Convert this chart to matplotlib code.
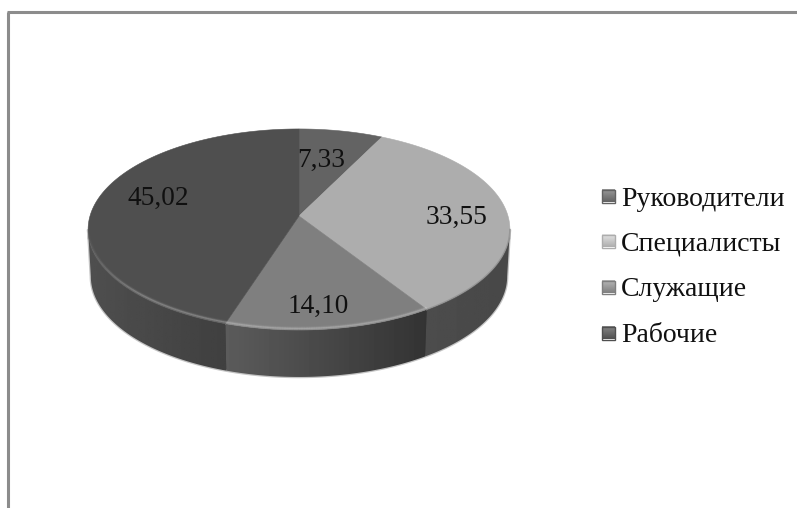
#!/usr/bin/env python3
import numpy as np
import matplotlib
matplotlib.use("Agg")
import matplotlib.pyplot as plt
from matplotlib.collections import LineCollection
from matplotlib.patches import Polygon, Rectangle

categories = ["Руководители", "Специалисты", "Служащие", "Рабочие"]
values = [7.33, 33.55, 14.10, 45.02]

top_colors = ["#636363", "#adadad", "#7f7f7f", "#4f4f4f"]
# grey level of the wall at the left and right end of each slice
wall_grey = [(0.30, 0.30), (0.30, 0.28), (0.36, 0.20), (0.31, 0.25)]

plt.rcParams["font.family"] = ["Liberation Serif", "DejaVu Serif"]

W, H = 797, 508
CX, CY = 299, 216     # pie apex on the page
RX, RY = 209, 98.7    # radii before the tilt
TILT = 0.134          # perspective strength
DEPTH = 47            # wall height
TAPER = 0.987         # the wall narrows slightly going down


def project(t):
    # t is the clockwise angle from 12 o'clock, radians
    x, y = np.sin(t), np.cos(t)
    w = 1 + TILT * y
    return CX + RX * x / w, CY - RY * y / w


def gradient(ax, x0, x1, y0, y1, g0, g1, clip, vertical=False):
    grad = np.linspace(g0, g1, 64)
    grad = grad.reshape(-1, 1) if vertical else grad.reshape(1, -1)
    im = ax.imshow(grad, extent=(x0, x1, y1, y0), aspect="auto", cmap="gray",
                   vmin=0, vmax=1, interpolation="bilinear", zorder=2)
    if clip is not None:
        clip.set_transform(ax.transData)
        im.set_clip_path(clip)


def wall_outline(ts):
    sx, sy = project(ts)
    bx = CX + (sx - CX) * TAPER
    return np.column_stack([np.r_[sx, bx[::-1]], np.r_[sy, sy[::-1] + DEPTH]])


fig = plt.figure(figsize=(W / 100, H / 100), dpi=100, facecolor="white")
ax = fig.add_axes([0, 0, 1, 1])
ax.axis("off")

edges = np.cumsum([0] + values) / sum(values) * 2 * np.pi

# the wall only shows on the front half of the outline
tt = np.linspace(0, 2 * np.pi, 1441)
px, py = project(tt)
t_right = tt[np.argmax(px)]
t_left = tt[np.argmin(px)]

# soft halo round the wall, plus a dark backing so no seams show between segments
front = np.linspace(t_right, t_left, 300)
backing = wall_outline(front)
ax.add_patch(Polygon(backing, closed=True, facecolor="#3c3c3c",
                     edgecolor="#c4c4c4", lw=1.8, zorder=1))

# wall segments
for i in range(len(values)):
    a = max(edges[i], t_right)
    b = min(edges[i + 1], t_left)
    if b <= a:
        continue
    ts = np.linspace(a, b, 120)
    sx, sy = project(ts)
    clip = Polygon(wall_outline(ts), closed=True, facecolor="none", edgecolor="none")
    ax.add_patch(clip)
    # sx runs right to left because the angle runs clockwise
    g0, g1 = wall_grey[i]
    gradient(ax, sx.min() - 3, sx.max() + 3, sy.min() - 1, sy.max() + DEPTH + 1, g0, g1, clip)

# top face
for i in range(len(values)):
    ts = np.linspace(edges[i], edges[i + 1], 200)
    sx, sy = project(ts)
    pts = np.column_stack([np.r_[CX, sx], np.r_[CY, sy]])
    ax.add_patch(Polygon(pts, closed=True, facecolor=top_colors[i],
                         edgecolor=top_colors[i], lw=0.4, zorder=3))

# bevel along the front rim, fading out towards the left side
rim = np.linspace(edges[2], t_left, 200)
rx, ry = project(rim)
points = np.column_stack([rx, ry - 1.5])
segs = np.stack([points[:-1], points[1:]], axis=1)
fade = np.clip((rim[-1] - rim[:-1]) / 0.7, 0, 1)
for lw, alpha in [(3.0, 0.05), (1.8, 0.10), (0.9, 0.16)]:
    colors = np.ones((len(segs), 4))
    colors[:, 3] = alpha * fade
    ax.add_collection(LineCollection(segs, colors=colors, linewidths=lw,
                                     capstyle="butt", zorder=4))
rim = np.linspace(t_right, edges[2], 200)
rx, ry = project(rim)
ax.plot(rx, ry, color="#7a7a7a", lw=1.2, alpha=0.45, zorder=4)

# data labels
label_pos = [(321, 157), (457, 214), (318, 303), (158, 195)]
for v, (lx, ly) in zip(values, label_pos):
    ax.text(lx, ly, f"{v:.2f}".replace(".", ","), fontsize=19.7, color="#101010",
            ha="center", va="center_baseline", zorder=6)

# legend
legend_y = [196, 241, 287, 333]
for name, col, ly in zip(categories, top_colors, legend_y):
    base = matplotlib.colors.to_rgb(col)[0]
    gradient(ax, 602, 615, ly - 6.5, ly + 6.5, min(base + 0.22, 0.9), base, None, vertical=True)
    ax.add_patch(Rectangle((602, ly - 6.5), 13, 13, facecolor="none",
                           edgecolor=col, lw=1.0, zorder=3))
    ax.text(621, ly, name, fontsize=20, color="#101010", ha="left",
            va="center_baseline", zorder=6)

# frame, only top and left are in view
ax.plot([8.5, 8.5], [12, H], color="#8c8c8c", lw=2.2, solid_capstyle="butt", zorder=5)
ax.plot([7.5, W], [12, 12], color="#8c8c8c", lw=2.2, solid_capstyle="butt", zorder=5)

ax.set_xlim(0, W)
ax.set_ylim(H, 0)
fig.savefig("out.png", dpi=100)
